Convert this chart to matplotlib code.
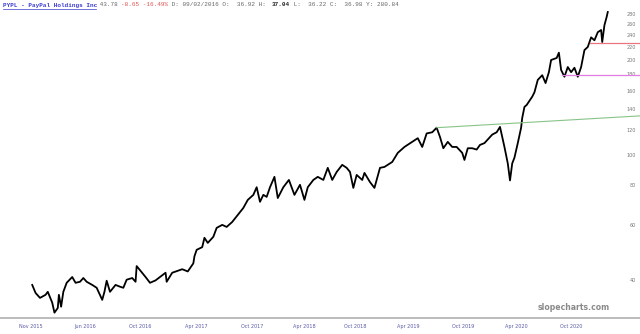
import matplotlib
matplotlib.use("Agg")
import matplotlib.pyplot as plt
from matplotlib.ticker import FixedLocator, NullLocator, FixedFormatter

# decimal year / close price
years = [2015.89, 2015.92, 2015.96, 2016.01, 2016.03, 2016.07, 2016.09, 2016.12, 2016.13, 2016.15,
         2016.17, 2016.20, 2016.25, 2016.28, 2016.32, 2016.35, 2016.38, 2016.43, 2016.47, 2016.52,
         2016.54, 2016.56, 2016.59, 2016.64, 2016.68, 2016.71, 2016.74, 2016.79, 2016.82, 2016.83,
         2016.91, 2016.95, 2017.00, 2017.04, 2017.09, 2017.10, 2017.15, 2017.19, 2017.24, 2017.29,
         2017.34, 2017.35, 2017.37, 2017.42, 2017.44, 2017.47, 2017.52, 2017.55, 2017.60, 2017.64,
         2017.69, 2017.74, 2017.79, 2017.83, 2017.88, 2017.91, 2017.94, 2017.97, 2018.00, 2018.03,
         2018.07, 2018.10, 2018.15, 2018.20, 2018.25, 2018.30, 2018.34, 2018.37, 2018.42, 2018.46,
         2018.51, 2018.55, 2018.59, 2018.63, 2018.68, 2018.72, 2018.75, 2018.78, 2018.81, 2018.86,
         2018.88, 2018.93, 2018.97, 2019.02, 2019.06, 2019.13, 2019.18, 2019.24, 2019.31, 2019.36,
         2019.40, 2019.44, 2019.49, 2019.53, 2019.56, 2019.59, 2019.63, 2019.67, 2019.71, 2019.76,
         2019.78, 2019.81, 2019.85, 2019.89, 2019.92, 2019.96, 2020.01, 2020.03, 2020.07, 2020.10,
         2020.12, 2020.14, 2020.17, 2020.19, 2020.21, 2020.23, 2020.26, 2020.29, 2020.30, 2020.32,
         2020.34, 2020.39, 2020.41, 2020.44, 2020.48, 2020.51, 2020.54, 2020.56, 2020.61, 2020.63,
         2020.65, 2020.68, 2020.71, 2020.74, 2020.77, 2020.80, 2020.83, 2020.86, 2020.89, 2020.92,
         2020.95, 2020.98, 2021.01, 2021.02, 2021.04, 2021.06, 2021.07]
prices = [38.7, 36.5, 35.2, 36.0, 36.8, 34.0, 31.6, 32.7, 36.0, 33.0,
          36.8, 39.3, 41.0, 39.3, 39.6, 40.7, 39.6, 38.7, 37.9, 34.7,
          36.8, 39.9, 36.8, 38.7, 38.2, 37.9, 40.2, 40.7, 39.6, 44.4,
          41.0, 39.3, 40.0, 41.0, 42.3, 39.6, 42.3, 42.8, 43.4, 42.7,
          45.3, 47.7, 50.0, 51.0, 54.6, 52.6, 55.0, 58.7, 60.0, 59.1,
          61.3, 64.5, 67.9, 72.0, 74.7, 79.0, 71.0, 74.7, 73.6, 79.0,
          85.2, 73.0, 79.0, 83.3, 74.7, 80.4, 72.0, 79.0, 83.3, 85.2,
          83.3, 91.0, 83.3, 88.3, 93.0, 91.0, 88.3, 78.6, 86.4, 83.3,
          87.7, 82.0, 78.6, 91.0, 91.6, 95.0, 101.5, 106.0, 110.0, 113.0,
          106.0, 117.0, 118.0, 122.0, 114.0, 105.0, 110.0, 106.0, 106.0, 101.5,
          96.4, 105.0, 105.0, 104.0, 107.6, 109.0, 114.0, 116.0, 118.0, 122.7,
          114.0, 106.0, 94.0, 83.0, 94.0, 98.0, 109.0, 122.0, 131.0, 142.0,
          144.0, 153.0, 158.0, 173.0, 179.0, 169.0, 183.0, 200.0, 203.0, 211.0,
          186.0, 177.0, 190.0, 183.0, 189.0, 177.0, 190.0, 215.0, 220.0, 236.0,
          231.0, 245.0, 249.0, 228.0, 258.0, 274.0, 284.0]

# trend / level lines
green_x = [2019.53, 2021.36]
green_y = [122.0, 133.0]
red_start, red_level = 2020.91, 226.0
pink_start, pink_level = 2020.66, 179.0

ytick_vals = [40, 60, 80, 100, 120, 140, 160, 180, 200, 220, 240, 260, 280]
xtick_pos = [2015.88, 2016.37, 2016.86, 2017.37, 2017.87, 2018.34, 2018.80,
             2019.27, 2019.77, 2020.25, 2020.74]
xtick_labels = ["Nov 2015", "Jun 2016", "Oct 2016", "Apr 2017", "Oct 2017", "Apr 2018",
                "Oct 2018", "Apr 2019", "Oct 2019", "Apr 2020", "Oct 2020"]

# header pieces: (text, colour, bold)
header = [("PYPL - PayPal Holdings Inc", "#3a3ad0", True),
          (" 43.78 ", "#666666", False),
          ("-8.65 -16.49%", "#e05050", False),
          (" D: 09/02/2016 O:  36.92 H:  ", "#666666", False),
          ("37.04", "#222222", True),
          (" L:  36.22 C:  36.98 Y: 280.84", "#666666", False)]

fig = plt.figure(figsize=(6.4, 3.34), dpi=100)
ax = fig.add_axes([0, 0.048, 1, 0.952])

x_lo, x_hi = 2015.60, 2021.36
ax.plot(years, prices, color="black", lw=1.3)
ax.plot(green_x, green_y, color="#88c488", lw=0.8)
ax.plot([red_start, x_hi], [red_level, red_level], color="#ea7480", lw=0.9)
ax.plot([pink_start, x_hi], [pink_level, pink_level], color="#e27ee2", lw=0.9)

ax.set_yscale("log")
ax.set_xlim(x_lo, x_hi)
ax.set_ylim(30.4, 310)

ax.yaxis.set_major_locator(FixedLocator(ytick_vals))
ax.yaxis.set_major_formatter(FixedFormatter([str(v) for v in ytick_vals]))
ax.yaxis.set_minor_locator(NullLocator())
ax.yaxis.tick_right()
ax.tick_params(axis="y", length=0, pad=-3, labelsize=3.5, labelcolor="#777777")
for lab in ax.get_yticklabels():
    lab.set_horizontalalignment("right")

ax.set_xticks(xtick_pos)
ax.set_xticklabels(xtick_labels)
ax.tick_params(axis="x", length=0, pad=4, labelsize=3.5, labelcolor="#5a5aa8")

for s in ["top", "left", "right"]:
    ax.spines[s].set_visible(False)
ax.spines["bottom"].set_color("#b0b0b0")
ax.spines["bottom"].set_linewidth(1.2)

# header line in monospace, pieces laid out by character column
mono = "Liberation Mono"
hsize = 4.3
char_w = 0.6 * hsize * 100 / 72  # px per character
col = 0
for txt, colr, bold in header:
    fig.text((3 + col * char_w) / 640, 1 - 5 / 334, txt, family=mono, fontsize=hsize,
             color=colr, weight="bold" if bold else "normal", va="center")
    col += len(txt)
title_w = len(header[0][0]) * char_w
fig.add_artist(plt.Line2D([3 / 640, (3 + title_w) / 640], [1 - 8.5 / 334, 1 - 8.5 / 334],
                          color="#3a3ad0", lw=0.5))

fig.text(574 / 640, 1 - 307 / 334, "slopecharts.com", fontsize=5.6, weight="bold",
         color="#8a8a8a", ha="center", va="center")

fig.savefig("out.png", dpi=100)
